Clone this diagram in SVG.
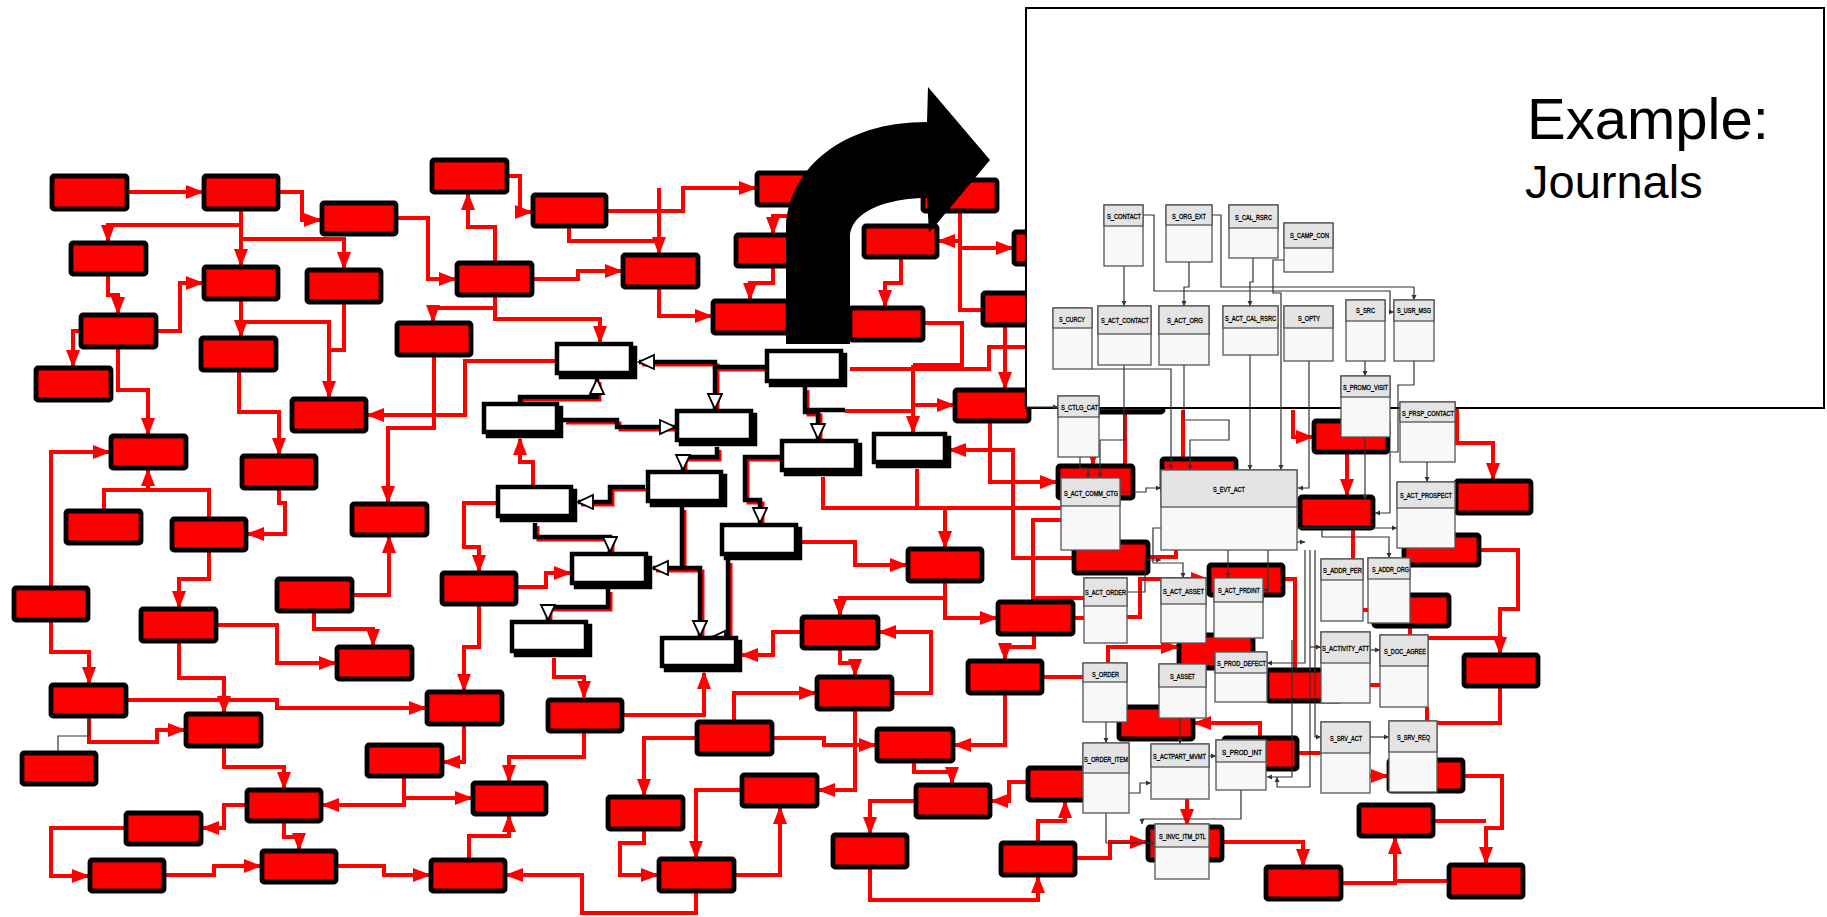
<svg xmlns="http://www.w3.org/2000/svg" xmlns:xlink="http://www.w3.org/1999/xlink" width="1827" height="917" viewBox="0 0 1827 917">
<style>
.rb{fill:#ff0000;stroke:#000;stroke-width:4.8}
.wb{fill:#fff;stroke:#000;stroke-width:4.5}
.ws{fill:#000;stroke:#000;stroke-width:4.5}
.rl{fill:none;stroke:#ff0000;stroke-width:4;marker-end:url(#ra)}
.rn{fill:none;stroke:#ff0000;stroke-width:4}
.tl{fill:none;stroke:#333;stroke-width:1.2;marker-end:url(#ta)}
.tbody{fill:#f8f8f8;stroke:#555;stroke-width:1.3}
.thead{fill:#e4e4e4;stroke:#555;stroke-width:1.3}
.tt{font-family:"Liberation Sans",Arial,sans-serif;font-size:7.2px;fill:#000;stroke:#000;stroke-width:0.3}
.big{font-family:"Liberation Sans",Arial,sans-serif;fill:#000}
</style>
<defs>
<marker id="ra" markerUnits="userSpaceOnUse" markerWidth="18" markerHeight="14" refX="16" refY="7" orient="auto"><path d="M0,0 L18,7 L0,14 Z" fill="#ff0000"/></marker>
<marker id="ha" markerUnits="userSpaceOnUse" markerWidth="20" markerHeight="18" refX="16" refY="8" orient="auto"><path d="M1,1 L16,8 L1,15 Z" fill="#fff" stroke="#000" stroke-width="1.8"/></marker>
<marker id="ta" markerUnits="userSpaceOnUse" markerWidth="6" markerHeight="6" refX="5" refY="3" orient="auto"><path d="M0,0.5 L5,3 L0,5.5 Z" fill="#333"/></marker>
<g id="kp" fill="none">
<path d="M765,367 H715 V362 H639"/>
<path d="M715,367 V409"/>
<path d="M520,402 V397 H597 V379"/>
<path d="M563,420 H617 V427 H675"/>
<path d="M717,447 V457 H683 V470"/>
<path d="M805,387 V412 H818 V439"/>
<path d="M645,487 H610 V502 H578"/>
<path d="M535,523 V537 H610 V552"/>
<path d="M682,507 V568 H653"/>
<path d="M682,568 H700 V636"/>
<path d="M780,457 H745 V500 H760 V523"/>
<path d="M728,560 V638 H710"/>
<path d="M608,589 V607 H548 V620"/>
</g>
</defs>

<g id="connectors">
<g id="red-connectors">
<path class="rl" d="M129,192 H202"/>
<path class="rl" d="M280,192 H302 V220 H320"/>
<path class="rl" d="M241,211 V265"/>
<path class="rl" d="M241,225 H108 V241"/>
<path class="rl" d="M241,239 H344 V268"/>
<path class="rl" d="M398,218 H428 V279 H455"/>
<path class="rl" d="M108,276 V295 H118 V313"/>
<path class="rl" d="M158,331 H180 V283 H202"/>
<path class="rl" d="M80,331 H73 V366"/>
<path class="rl" d="M118,349 V390 H148 V434"/>
<path class="rl" d="M241,301 V336"/>
<path class="rl" d="M241,322 H329 V397"/>
<path class="rn" d="M344,304 V350 H329"/>
<path class="rl" d="M239,372 V412 H279 V454"/>
<path class="rl" d="M495,261 V227 H468 V194"/>
<path class="rl" d="M495,308 H433 V321"/>
<path class="rl" d="M495,297 V319 H600 V342"/>
<path class="rl" d="M434,357 V428 H388 V502"/>
<path class="rl" d="M555,361 H465 V415 H368"/>
<path class="rl" d="M509,176 H520 V212 H531"/>
<path class="rl" d="M608,211 H683 V188 H755"/>
<path class="rl" d="M659,188 V253"/>
<path class="rn" d="M569,228 V241 H659"/>
<path class="rl" d="M659,289 V316 H711"/>
<path class="rl" d="M534,279 H578 V271 H621"/>
<path class="rl" d="M800,216 H773 V233"/>
<path class="rl" d="M773,268 V283 H750 V299"/>
<path class="rl" d="M901,259 V283 H885 V306"/>
<path class="rn" d="M960,213 V310 H981"/>
<path class="rl" d="M960,241 H939"/>
<path class="rl" d="M960,248 H1012"/>
<path class="rn" d="M925,323 H962 V365 H913"/>
<path class="rn" d="M850,369 H989 V347 H1030"/>
<path class="rl" d="M913,365 V432"/>
<path class="rl" d="M913,405 H953"/>
<path class="rn" d="M845,411 H913"/>
<path class="rl" d="M1005,327 V388"/>
<path class="rl" d="M990,423 V482 H1056"/>
<path class="rl" d="M1072,558 H1013 V450 H950"/>
<path class="rn" d="M823,477 V508 H1062"/>
<path class="rn" d="M917,469 V508"/>
<path class="rl" d="M945,508 V547"/>
<path class="rn" d="M1062,520 H1033 V598 H1084"/>
<path class="rl" d="M802,542 H855 V565 H906"/>
<path class="rl" d="M945,583 V598 H840 V615"/>
<path class="rl" d="M945,598 V618 H996"/>
<path class="rl" d="M800,632 H773 V655 H742"/>
<path class="rl" d="M894,693 H931 V632 H880"/>
<path class="rl" d="M840,650 V663 H855 V675"/>
<path class="rl" d="M1034,636 V647 H1005 V659"/>
<path class="rn" d="M1044,677 H1083"/>
<path class="rn" d="M1075,618 H1084"/>
<path class="rl" d="M1005,695 V745 H955"/>
<path class="rl" d="M855,711 V790 H819"/>
<path class="rl" d="M734,720 V693 H815"/>
<path class="rl" d="M774,738 H824 V745 H875"/>
<path class="rl" d="M695,738 H644 V795"/>
<path class="rl" d="M914,763 V772 H952 V783"/>
<path class="rl" d="M1026,782 H1009 V801 H992"/>
<path class="rl" d="M914,801 H870 V833"/>
<path class="rl" d="M870,869 V900 H1038 V877"/>
<path class="rl" d="M1038,841 V821 H1065 V802"/>
<path class="rl" d="M1077,858 H1110 V842 H1146"/>
<path class="rl" d="M644,831 V843 H620 V875 H657"/>
<path class="rl" d="M740,790 H696 V857"/>
<path class="rl" d="M736,875 H780 V808"/>
<path class="rl" d="M696,893 V913 H582 V875 H507"/>
<path class="rl" d="M554,658 V677 H584 V697"/>
<path class="rl" d="M624,715 H704 V673"/>
<path class="rl" d="M584,733 V757 H509 V781"/>
<path class="rl" d="M51,586 V452 H109"/>
<path class="rn" d="M104,509 V490 H209 V517"/>
<path class="rl" d="M148,490 V470"/>
<path class="rl" d="M279,490 V503 H285 V534 H248"/>
<path class="rl" d="M209,552 V579 H179 V607"/>
<path class="rl" d="M354,595 H389 V537"/>
<path class="rl" d="M314,613 V629 H373 V645"/>
<path class="rl" d="M218,625 H277 V663 H335"/>
<path class="rl" d="M179,643 V678 H224 V712"/>
<path class="rl" d="M51,622 V652 H89 V683"/>
<path class="rl" d="M128,700 H277 V708 H425"/>
<path class="rl" d="M89,718 V742 H157 V730 H184"/>
<path class="rl" d="M479,606 V647 H464 V690"/>
<path class="rl" d="M496,503 H464 V547 H479 V571"/>
<path class="rl" d="M518,587 H546 V573 H570"/>
<path class="rl" d="M464,726 V762 H444"/>
<path class="rl" d="M404,778 V805 H323"/>
<path class="rl" d="M404,798 H471"/>
<path class="rl" d="M245,805 H224 V828 H203"/>
<path class="rl" d="M284,823 V837 H299 V849"/>
<path class="rl" d="M224,748 V767 H284 V788"/>
<path class="rl" d="M124,828 H51 V876 H88"/>
<path class="rl" d="M166,875 H214 V866 H260"/>
<path class="rl" d="M338,866 H384 V875 H429"/>
<path class="rl" d="M469,858 V836 H509 V816"/>
<path class="rl" d="M1465,776 H1502 V828 H1486 V863"/>
<path class="rn" d="M1435,821 H1486"/>
<path class="rl" d="M1343,883 H1395 V838"/>
<path class="rn" d="M1447,881 H1395"/>
<path class="rl" d="M1222,842 H1303 V865"/>
<path class="rl" d="M1350,776 H1387"/>
<path class="rn" d="M1299,753 H1321"/>
<path class="rn" d="M1500,688 V723 H1427 V707"/>
<path class="rl" d="M1457,409 V443 H1493 V479"/>
<path class="rl" d="M1478,550 H1518 V609 H1500 V653"/>
<path class="rn" d="M1428,638 H1503"/>
<path class="rl" d="M1293,410 V437 H1312"/>
<path class="rl" d="M1347,454 V495"/>
<path class="rn" d="M1353,530 V559"/>
<path class="rn" d="M1363,610 H1372"/>
<path class="rn" d="M1410,628 V635"/>
<path class="rn" d="M1370,685 H1380"/>
<path class="rn" d="M1285,579 H1295 V668"/>
<path class="rl" d="M1127,617 H1140 V579 H1207"/>
<path class="rl" d="M1108,663 V647 H1177"/>
<path class="rl" d="M1260,736 V723 H1195"/>
<path class="rl" d="M1187,799 V825"/>
<path class="rl" d="M1093,414 V464"/>
<path class="rn" d="M1125,414 V464"/>
<path class="rn" d="M1183,410 V457"/>
<path class="rn" d="M1150,557 H1176 V550"/>
<path class="rl" d="M533,485 V462 H520 V439"/>
</g>
<g id="black-connectors">
<use xlink:href="#kp" href="#kp" stroke="#ff0000" stroke-width="3" transform="translate(3,3)"/>
<use xlink:href="#kp" href="#kp" stroke="#000" stroke-width="4.5" marker-end="url(#ha)"/>
<path d="M805,410 H845" fill="none" stroke="#000" stroke-width="4.5"/>
</g>
</g>

<g id="red-nodes">
<rect id="a1" class="rb" x="52" y="176" width="75" height="33" rx="2"/>
<rect id="a2" class="rb" x="204" y="176" width="74" height="33" rx="2"/>
<rect id="a3" class="rb" x="322" y="203" width="74" height="31" rx="2"/>
<rect id="a4" class="rb" x="71" y="243" width="75" height="31" rx="2"/>
<rect id="a5" class="rb" x="204" y="267" width="74" height="32" rx="2"/>
<rect id="a6" class="rb" x="307" y="270" width="74" height="32" rx="2"/>
<rect id="a7" class="rb" x="81" y="315" width="75" height="32" rx="2"/>
<rect id="a8" class="rb" x="36" y="368" width="75" height="32" rx="2"/>
<rect id="a9" class="rb" x="201" y="338" width="75" height="32" rx="2"/>
<rect id="a10" class="rb" x="292" y="399" width="74" height="32" rx="2"/>
<rect id="a11" class="rb" x="111" y="436" width="75" height="32" rx="2"/>
<rect id="a12" class="rb" x="242" y="456" width="74" height="32" rx="2"/>
<rect id="a13" class="rb" x="432" y="160" width="75" height="32" rx="2"/>
<rect id="a14" class="rb" x="457" y="263" width="75" height="32" rx="2"/>
<rect id="a15" class="rb" x="397" y="323" width="74" height="32" rx="2"/>
<rect id="a16" class="rb" x="533" y="195" width="73" height="31" rx="2"/>
<rect id="a17" class="rb" x="623" y="255" width="75" height="32" rx="2"/>
<rect id="a18" class="rb" x="757" y="173" width="75" height="32" rx="2"/>
<rect id="a19" class="rb" x="736" y="235" width="75" height="31" rx="2"/>
<rect id="a20" class="rb" x="713" y="301" width="75" height="32" rx="2"/>
<rect id="a21" class="rb" x="864" y="226" width="73" height="31" rx="2"/>
<rect id="a22" class="rb" x="923" y="180" width="74" height="31" rx="2"/>
<rect id="a23" class="rb" x="850" y="308" width="73" height="32" rx="2"/>
<rect id="a24" class="rb" x="1014" y="232" width="74" height="32" rx="2"/>
<rect id="a25" class="rb" x="983" y="293" width="75" height="32" rx="2"/>
<rect id="a26" class="rb" x="955" y="390" width="74" height="31" rx="2"/>
<rect id="a27" class="rb" x="442" y="573" width="74" height="31" rx="2"/>
<rect id="a28" class="rb" x="802" y="617" width="76" height="31" rx="2"/>
<rect id="a29" class="rb" x="908" y="549" width="74" height="32" rx="2"/>
<rect id="a30" class="rb" x="998" y="602" width="75" height="32" rx="2"/>
<rect id="a31" class="rb" x="817" y="677" width="75" height="32" rx="2"/>
<rect id="a32" class="rb" x="968" y="661" width="74" height="32" rx="2"/>
<rect id="c1" class="rb" x="66" y="511" width="75" height="32" rx="2"/>
<rect id="c2" class="rb" x="172" y="519" width="74" height="31" rx="2"/>
<rect id="c4" class="rb" x="352" y="504" width="75" height="31" rx="2"/>
<rect id="c5" class="rb" x="14" y="588" width="74" height="32" rx="2"/>
<rect id="c6" class="rb" x="141" y="609" width="75" height="32" rx="2"/>
<rect id="c7" class="rb" x="277" y="579" width="75" height="32" rx="2"/>
<rect id="c8" class="rb" x="337" y="647" width="75" height="32" rx="2"/>
<rect id="c10" class="rb" x="427" y="692" width="75" height="32" rx="2"/>
<rect id="c11" class="rb" x="51" y="685" width="75" height="31" rx="2"/>
<rect id="c12" class="rb" x="186" y="714" width="75" height="32" rx="2"/>
<rect id="c13" class="rb" x="22" y="753" width="74" height="31" rx="2"/>
<rect id="c14" class="rb" x="367" y="745" width="75" height="31" rx="2"/>
<rect id="c15" class="rb" x="247" y="790" width="74" height="31" rx="2"/>
<rect id="c16" class="rb" x="126" y="813" width="75" height="31" rx="2"/>
<rect id="c17" class="rb" x="473" y="783" width="73" height="31" rx="2"/>
<rect id="c18" class="rb" x="90" y="860" width="74" height="31" rx="2"/>
<rect id="c19" class="rb" x="262" y="851" width="74" height="31" rx="2"/>
<rect id="c20" class="rb" x="431" y="860" width="74" height="31" rx="2"/>
<rect id="c21" class="rb" x="548" y="700" width="74" height="31" rx="2"/>
<rect id="d6" class="rb" x="697" y="722" width="75" height="32" rx="2"/>
<rect id="d7" class="rb" x="877" y="729" width="76" height="32" rx="2"/>
<rect id="d9" class="rb" x="608" y="797" width="75" height="32" rx="2"/>
<rect id="d10" class="rb" x="742" y="775" width="75" height="31" rx="2"/>
<rect id="d11" class="rb" x="916" y="785" width="74" height="32" rx="2"/>
<rect id="d12" class="rb" x="1028" y="768" width="75" height="32" rx="2"/>
<rect id="d13" class="rb" x="833" y="835" width="74" height="32" rx="2"/>
<rect id="d14" class="rb" x="659" y="859" width="75" height="32" rx="2"/>
<rect id="d15" class="rb" x="1001" y="843" width="74" height="32" rx="2"/>
<rect id="e1" class="rb" x="1389" y="760" width="74" height="31" rx="2"/>
<rect id="e2" class="rb" x="1359" y="805" width="74" height="31" rx="2"/>
<rect id="e3" class="rb" x="1266" y="867" width="75" height="32" rx="2"/>
<rect id="e4" class="rb" x="1449" y="865" width="74" height="32" rx="2"/>
<rect id="e5" class="rb" x="1224" y="738" width="73" height="31" rx="2"/>
<rect id="e6" class="rb" x="1314" y="421" width="74" height="31" rx="2"/>
<rect id="e7" class="rb" x="1300" y="497" width="73" height="31" rx="2"/>
<rect id="e8" class="rb" x="1456" y="481" width="75" height="32" rx="2"/>
<rect id="e9" class="rb" x="1404" y="535" width="75" height="30" rx="2"/>
<rect id="e10" class="rb" x="1374" y="595" width="75" height="31" rx="2"/>
<rect id="e11" class="rb" x="1464" y="655" width="74" height="31" rx="2"/>
<rect id="e12" class="rb" x="1267" y="670" width="74" height="31" rx="2"/>
<rect id="e13" class="rb" x="1209" y="565" width="74" height="30" rx="2"/>
<rect id="e14" class="rb" x="1058" y="466" width="75" height="32" rx="2"/>
<rect id="e15" class="rb" x="1162" y="459" width="74" height="31" rx="2"/>
<rect id="e17" class="rb" x="1074" y="542" width="74" height="31" rx="2"/>
<rect id="e22" class="rb" x="1179" y="635" width="74" height="33" rx="2"/>
<rect id="e23" class="rb" x="1119" y="707" width="74" height="32" rx="2"/>
<rect id="e25" class="rb" x="1148" y="827" width="74" height="33" rx="2"/>
<rect id="h1" class="rb" x="1087" y="380" width="76" height="32" rx="2"/>
</g>

<g id="white-nodes">
<g id="w1"><rect class="ws" x="561" y="348" width="74" height="29"/><rect class="wb" x="557" y="344" width="74" height="29"/></g>
<g id="w2"><rect class="ws" x="771" y="355" width="74" height="30"/><rect class="wb" x="767" y="351" width="74" height="30"/></g>
<g id="w3"><rect class="ws" x="681" y="415" width="74" height="29"/><rect class="wb" x="677" y="411" width="74" height="29"/></g>
<g id="w5"><rect class="ws" x="488" y="408" width="73" height="28"/><rect class="wb" x="484" y="404" width="73" height="28"/></g>
<g id="w6"><rect class="ws" x="786" y="445" width="74" height="29"/><rect class="wb" x="782" y="441" width="74" height="29"/></g>
<g id="w7"><rect class="ws" x="878" y="438" width="71" height="28"/><rect class="wb" x="874" y="434" width="71" height="28"/></g>
<g id="w8"><rect class="ws" x="652" y="476" width="73" height="29"/><rect class="wb" x="648" y="472" width="73" height="29"/></g>
<g id="w9"><rect class="ws" x="502" y="491" width="73" height="29"/><rect class="wb" x="498" y="487" width="73" height="29"/></g>
<g id="w10"><rect class="ws" x="726" y="529" width="74" height="29"/><rect class="wb" x="722" y="525" width="74" height="29"/></g>
<g id="w11"><rect class="ws" x="576" y="558" width="74" height="29"/><rect class="wb" x="572" y="554" width="74" height="29"/></g>
<g id="w12"><rect class="ws" x="516" y="626" width="74" height="29"/><rect class="wb" x="512" y="622" width="74" height="29"/></g>
<g id="w13"><rect class="ws" x="666" y="642" width="74" height="28"/><rect class="wb" x="662" y="638" width="74" height="28"/></g>
</g>

<g id="big-arrow">
<path d="M786,344 L786,225 C790,168 842,122 927,122 L928,87 L990,160 L929,233 L927,198 C895,198 850,208 850,238 L850,344 Z" fill="#000"/>
</g>

<g id="example-panel">
<rect x="1026" y="8" width="798" height="400" fill="#fff" stroke="#000" stroke-width="2"/>
<text class="big" x="1527" y="139" font-size="58">Example:</text>
<text class="big" x="1525" y="198" font-size="47">Journals</text>
</g>

<g id="table-connectors">
<path class="tl" d="M1124,266 V306"/>
<path class="tl" d="M1189,262 V287 H1184 V306"/>
<path class="tl" d="M1253,258 V282 H1250 V306"/>
<path class="tl" d="M1143,215 H1154 V291 H1390 V312 H1394"/>
<path class="tl" d="M1212,215 H1221 V287 H1414 V300"/>
<path class="tl" d="M1284,260 H1273 V293 H1281 V470"/>
<path class="tl" d="M1092,369 H1171 V470"/>
<path class="tl" d="M1124,365 V440 H1100 V478"/>
<path class="tl" d="M1184,365 V420 H1229 V440 H1190 V470"/>
<path class="tl" d="M1250,355 V470"/>
<path class="tl" d="M1309,361 V488 H1298"/>
<path class="tl" d="M1365,361 V376"/>
<path class="tl" d="M1414,361 V385 H1398 V452 H1390 V513 H1375"/>
<path class="tl" d="M1365,437 V500"/>
<path class="tl" d="M1427,462 V482"/>
<path class="tl" d="M1297,528 H1397"/>
<path class="tl" d="M1322,530 V537 H1389 V558"/>
<path class="tl" d="M1120,492 H1146 V488 H1161"/>
<path class="tl" d="M1025,395 V407 H1058"/>
<path class="tl" d="M1080,457 V468 H1088 V478"/>
<path class="tl" d="M1161,528 H1153 V563 H1183 V578"/>
<path class="tl" d="M1228,550 V578"/>
<path class="tl" d="M1268,550 V590 H1263"/>
<path class="tl" d="M1106,722 V743"/>
<path class="tl" d="M1129,793 H1140 V783 H1151"/>
<path class="tl" d="M1180,718 V744"/>
<path class="tl" d="M1209,756 H1216"/>
<path class="tl" d="M1106,813 V843 H1155"/>
<path class="tl" d="M1241,790 V819 H1142 V824"/>
<path class="tl" d="M1370,737 H1389"/>
<path class="tl" d="M1310,647 H1321"/>
<path class="tl" d="M1370,650 H1380"/>
<path class="tl" d="M1305,550 V663 H1267"/>
<path class="tl" d="M1310,550 V787 H1277 V777"/>
<path class="tl" d="M1315,550 V737 H1321"/>
<path class="tl" d="M1292,640 V777 H1267"/>
<path class="tl" d="M1297,542 H1305"/>
<path class="tl" d="M1127,592 H1145 V560 H1161"/>
<path d="M89,718 V736 H58 V751" fill="none" stroke="#333" stroke-width="1.2"/>
</g>

<g id="tables">
<g id="t-s-contact"><rect class="tbody" x="1104" y="205" width="39" height="61"/><rect class="thead" x="1104" y="205" width="39" height="21"/><text class="tt" x="1107" y="219" textLength="34" lengthAdjust="spacingAndGlyphs">S_CONTACT</text></g>
<g id="t-s-org-ext"><rect class="tbody" x="1166" y="205" width="46" height="57"/><rect class="thead" x="1166" y="205" width="46" height="20"/><text class="tt" x="1172" y="219" textLength="34" lengthAdjust="spacingAndGlyphs">S_ORG_EXT</text></g>
<g id="t-s-cal-rsrc"><rect class="tbody" x="1229" y="205" width="49" height="53"/><rect class="thead" x="1229" y="205" width="49" height="23"/><text class="tt" x="1235" y="220" textLength="37" lengthAdjust="spacingAndGlyphs">S_CAL_RSRC</text></g>
<g id="t-s-camp-con"><rect class="tbody" x="1284" y="223" width="49" height="49"/><rect class="thead" x="1284" y="223" width="49" height="25"/><text class="tt" x="1290" y="238" textLength="39" lengthAdjust="spacingAndGlyphs">S_CAMP_CON</text></g>
<g id="t-s-curcy"><rect class="tbody" x="1053" y="308" width="39" height="61"/><rect class="thead" x="1053" y="308" width="39" height="20"/><text class="tt" x="1059" y="322" textLength="26" lengthAdjust="spacingAndGlyphs">S_CURCY</text></g>
<g id="t-s-act-contact"><rect class="tbody" x="1098" y="306" width="53" height="59"/><rect class="thead" x="1098" y="306" width="53" height="28"/><text class="tt" x="1101" y="323" textLength="48" lengthAdjust="spacingAndGlyphs">S_ACT_CONTACT</text></g>
<g id="t-s-act-org"><rect class="tbody" x="1159" y="306" width="50" height="59"/><rect class="thead" x="1159" y="306" width="50" height="28"/><text class="tt" x="1167" y="323" textLength="36" lengthAdjust="spacingAndGlyphs">S_ACT_ORG</text></g>
<g id="t-s-act-cal-rsrc"><rect class="tbody" x="1223" y="306" width="55" height="49"/><rect class="thead" x="1223" y="306" width="55" height="22"/><text class="tt" x="1225" y="321" textLength="51" lengthAdjust="spacingAndGlyphs">S_ACT_CAL_RSRC</text></g>
<g id="t-s-opty"><rect class="tbody" x="1284" y="306" width="49" height="55"/><rect class="thead" x="1284" y="306" width="49" height="22"/><text class="tt" x="1298" y="321" textLength="22" lengthAdjust="spacingAndGlyphs">S_OPTY</text></g>
<g id="t-s-src"><rect class="tbody" x="1346" y="300" width="39" height="61"/><rect class="thead" x="1346" y="300" width="39" height="21"/><text class="tt" x="1356" y="313" textLength="19" lengthAdjust="spacingAndGlyphs">S_SRC</text></g>
<g id="t-s-usr-msg"><rect class="tbody" x="1394" y="300" width="40" height="61"/><rect class="thead" x="1394" y="300" width="40" height="21"/><text class="tt" x="1397" y="313" textLength="34" lengthAdjust="spacingAndGlyphs">S_USR_MSG</text></g>
<g id="t-s-promo-visit"><rect class="tbody" x="1341" y="376" width="49" height="61"/><rect class="thead" x="1341" y="376" width="49" height="21"/><text class="tt" x="1343" y="390" textLength="45" lengthAdjust="spacingAndGlyphs">S_PROMO_VISIT</text></g>
<g id="t-s-prsp-contact"><rect class="tbody" x="1400" y="402" width="55" height="60"/><rect class="thead" x="1400" y="402" width="55" height="20"/><text class="tt" x="1402" y="416" textLength="52" lengthAdjust="spacingAndGlyphs">S_PRSP_CONTACT</text></g>
<g id="t-s-ctlg-cat"><rect class="tbody" x="1058" y="396" width="41" height="61"/><rect class="thead" x="1058" y="396" width="41" height="21"/><text class="tt" x="1061" y="410" textLength="37" lengthAdjust="spacingAndGlyphs">S_CTLG_CAT</text></g>
<g id="t-s-act-comm-ctg"><rect class="tbody" x="1061" y="478" width="59" height="72"/><rect class="thead" x="1061" y="478" width="59" height="28"/><text class="tt" x="1064" y="496" textLength="54" lengthAdjust="spacingAndGlyphs">S_ACT_COMM_CTG</text></g>
<g id="t-s-evt-act"><rect class="tbody" x="1161" y="470" width="136" height="80"/><rect class="thead" x="1161" y="470" width="136" height="37"/><text class="tt" x="1213" y="492" textLength="32" lengthAdjust="spacingAndGlyphs">S_EVT_ACT</text></g>
<g id="t-s-act-prospect"><rect class="tbody" x="1397" y="482" width="58" height="66"/><rect class="thead" x="1397" y="482" width="58" height="26"/><text class="tt" x="1400" y="498" textLength="52" lengthAdjust="spacingAndGlyphs">S_ACT_PROSPECT</text></g>
<g id="t-s-addr-per"><rect class="tbody" x="1321" y="559" width="42" height="62"/><rect class="thead" x="1321" y="559" width="42" height="21"/><text class="tt" x="1323" y="573" textLength="39" lengthAdjust="spacingAndGlyphs">S_ADDR_PER</text></g>
<g id="t-s-addr-org"><rect class="tbody" x="1368" y="558" width="42" height="65"/><rect class="thead" x="1368" y="558" width="42" height="21"/><text class="tt" x="1372" y="572" textLength="37" lengthAdjust="spacingAndGlyphs">S_ADDR_ORG</text></g>
<g id="t-s-act-order"><rect class="tbody" x="1084" y="578" width="43" height="65"/><rect class="thead" x="1084" y="578" width="43" height="28"/><text class="tt" x="1085" y="595" textLength="41" lengthAdjust="spacingAndGlyphs">S_ACT_ORDER</text></g>
<g id="t-s-act-asset"><rect class="tbody" x="1161" y="578" width="45" height="65"/><rect class="thead" x="1161" y="578" width="45" height="26"/><text class="tt" x="1163" y="594" textLength="41" lengthAdjust="spacingAndGlyphs">S_ACT_ASSET</text></g>
<g id="t-s-act-prdint"><rect class="tbody" x="1214" y="578" width="49" height="60"/><rect class="thead" x="1214" y="578" width="49" height="24"/><text class="tt" x="1218" y="593" textLength="42" lengthAdjust="spacingAndGlyphs">S_ACT_PRDINT</text></g>
<g id="t-s-activity-att"><rect class="tbody" x="1321" y="632" width="49" height="71"/><rect class="thead" x="1321" y="632" width="49" height="31"/><text class="tt" x="1322" y="651" textLength="47" lengthAdjust="spacingAndGlyphs">S_ACTIVITY_ATT</text></g>
<g id="t-s-doc-agree"><rect class="tbody" x="1380" y="635" width="48" height="72"/><rect class="thead" x="1380" y="635" width="48" height="31"/><text class="tt" x="1384" y="654" textLength="42" lengthAdjust="spacingAndGlyphs">S_DOC_AGREE</text></g>
<g id="t-s-prod-defect"><rect class="tbody" x="1215" y="652" width="52" height="50"/><rect class="thead" x="1215" y="652" width="52" height="21"/><text class="tt" x="1217" y="666" textLength="49" lengthAdjust="spacingAndGlyphs">S_PROD_DEFECT</text></g>
<g id="t-s-order"><rect class="tbody" x="1083" y="663" width="44" height="59"/><rect class="thead" x="1083" y="663" width="44" height="19"/><text class="tt" x="1092" y="677" textLength="27" lengthAdjust="spacingAndGlyphs">S_ORDER</text></g>
<g id="t-s-asset"><rect class="tbody" x="1159" y="664" width="47" height="54"/><rect class="thead" x="1159" y="664" width="47" height="23"/><text class="tt" x="1170" y="679" textLength="25" lengthAdjust="spacingAndGlyphs">S_ASSET</text></g>
<g id="t-s-srv-act"><rect class="tbody" x="1321" y="722" width="49" height="71"/><rect class="thead" x="1321" y="722" width="49" height="31"/><text class="tt" x="1330" y="741" textLength="32" lengthAdjust="spacingAndGlyphs">S_SRV_ACT</text></g>
<g id="t-s-srv-req"><rect class="tbody" x="1389" y="721" width="48" height="71"/><rect class="thead" x="1389" y="721" width="48" height="31"/><text class="tt" x="1397" y="740" textLength="33" lengthAdjust="spacingAndGlyphs">S_SRV_REQ</text></g>
<g id="t-s-order-item"><rect class="tbody" x="1083" y="743" width="46" height="70"/><rect class="thead" x="1083" y="743" width="46" height="30"/><text class="tt" x="1084" y="762" textLength="44" lengthAdjust="spacingAndGlyphs">S_ORDER_ITEM</text></g>
<g id="t-s-actpart-mvmt"><rect class="tbody" x="1151" y="744" width="58" height="55"/><rect class="thead" x="1151" y="744" width="58" height="23"/><text class="tt" x="1153" y="759" textLength="53" lengthAdjust="spacingAndGlyphs">S_ACTPART_MVMT</text></g>
<g id="t-s-prod-int"><rect class="tbody" x="1216" y="740" width="50" height="50"/><rect class="thead" x="1216" y="740" width="50" height="22"/><text class="tt" x="1222" y="755" textLength="40" lengthAdjust="spacingAndGlyphs">S_PROD_INT</text></g>
<g id="t-s-invc-itm-dtl"><rect class="tbody" x="1155" y="824" width="54" height="55"/><rect class="thead" x="1155" y="824" width="54" height="23"/><text class="tt" x="1159" y="839" textLength="47" lengthAdjust="spacingAndGlyphs">S_INVC_ITM_DTL</text></g>
</g>
</svg>
